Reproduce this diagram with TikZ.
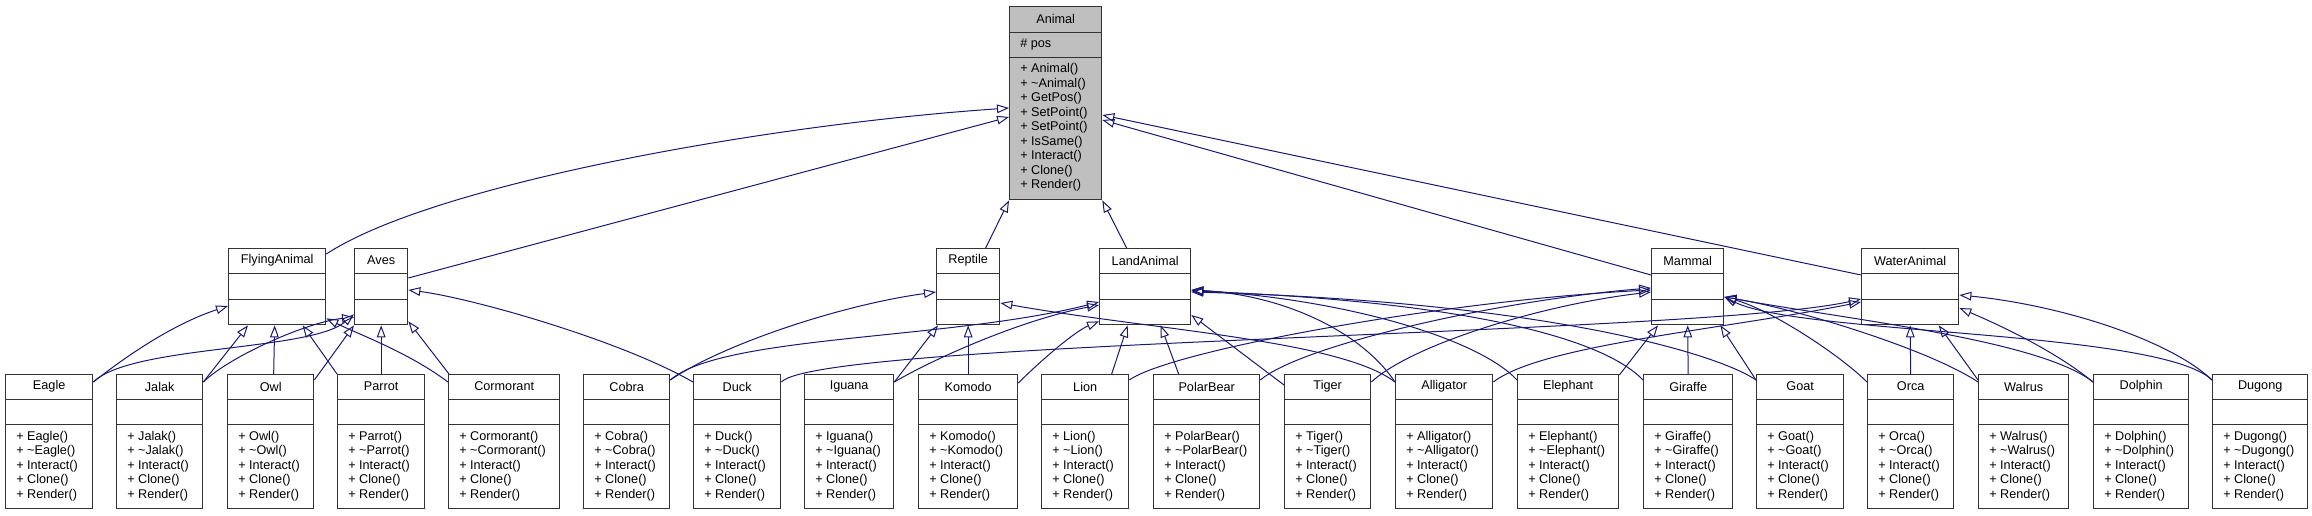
\documentclass[tikz,border=0pt]{standalone}
\usepackage{fontspec}
\setmainfont{Liberation Sans}
\usetikzlibrary{positioning,arrows.meta,calc}
\definecolor{edgeblue}{RGB}{25,25,112}
\definecolor{basegray}{RGB}{191,191,191}

\begin{document}
\begin{tikzpicture}[x=0.75pt, y=-0.75pt,
    cls/.style={draw=black!80, line width=1pt, fill=white, inner sep=0pt, anchor=north west},
    compart/.style 2 args={path picture={
      \draw[black!80, line width=1pt] ([yshift=-#1]path picture bounding box.north west) -- ([yshift=-#1]path picture bounding box.north east);
      \draw[black!80, line width=1pt] ([yshift=-#2]path picture bounding box.north west) -- ([yshift=-#2]path picture bounding box.north east);}},
    lowcls/.style={cls, minimum height=100.5pt, compart={18.75pt}{37.5pt}},
    midcls/.style={cls, minimum height=57pt, compart={18.75pt}{38.25pt}},
    clsname/.style={inner sep=0pt, font=\fontsize{9.5}{10.9}\selectfont},
    members/.style={inner sep=0pt, anchor=west, align=left, font=\fontsize{9.5}{10.9}\selectfont},
    inh/.style={draw=edgeblue, line width=0.75pt, -{Triangle[open, length=9pt, width=6.5pt]}}
  ]
  \useasboundingbox (0,0) rectangle (2312,515);

  \node[cls, fill=basegray, minimum width=69pt, minimum height=144.75pt, compart={19.5pt}{38.25pt}] (Animal) at (1009,6) {};
  \node[clsname] (Animal-t) at ($(Animal.north)+(0,13)$) {Animal};
  \node[members] (Animal-a) at ($(Animal.north west)+(11,38.5)$) {\# pos};
  \node[members] (Animal-m) at ($(Animal.north west)+(11,121.5)$) {+ Animal()\\+ \textasciitilde Animal()\\+ GetPos()\\+ SetPoint()\\+ SetPoint()\\+ IsSame()\\+ Interact()\\+ Clone()\\+ Render()};

  \foreach \cname/\xa/\xb in {FlyingAnimal/228/325, Aves/354/407, Reptile/936/999,
      LandAnimal/1099/1190, Mammal/1651/1723, WaterAnimal/1861/1958} {
    \node[midcls, minimum width={(\xb-\xa)*0.75pt}] (\cname) at (\xa,248) {};
    \node[clsname] (\cname-t) at ($(\cname.north)+(0,12.5)$) {\cname};
  }

  \foreach \cname/\xa/\xb in {Eagle/5/92, Jalak/116/202, Owl/227/313, Parrot/337/424,
      Cormorant/448/559, Cobra/583/669, Duck/693/780, Iguana/804/893, Komodo/918/1017,
      Lion/1041/1128, PolarBear/1153/1259, Tiger/1284/1370, Alligator/1395/1492,
      Elephant/1517/1618, Giraffe/1643/1732, Goat/1756/1843, Orca/1867/1953,
      Walrus/1978/2068, Dolphin/2093/2188, Dugong/2212/2307} {
    \node[lowcls, minimum width={(\xb-\xa)*0.75pt}] (\cname) at (\xa,374) {};
    \node[clsname] (\cname-t) at ($(\cname.north)+(0,12.5)$) {\cname};
    \node[members] (\cname-m) at ($(\cname.north west)+(11,92)$) {+ \cname()\\+ \textasciitilde\cname()\\+ Interact()\\+ Clone()\\+ Render()};
  }

  \draw[inh] ($(FlyingAnimal.north east)+(0,6)$) .. controls +(105,-69) and +(-249,17) .. ($(Animal.north west)+(0,102)$);
  \draw[inh] ($(Aves.north east)+(0,30)$) -- ($(Animal.north west)+(0,111)$);
  \draw[inh] ($(Reptile.north)+(17.5,0)$) -- (Animal.south west);
  \draw[inh] ($(LandAnimal.north)+(-18.5,0)$) -- (Animal.south east);
  \draw[inh] ($(Mammal.north west)+(0,27)$) -- ($(Animal.north east)+(0,114)$);
  \draw[inh] ($(WaterAnimal.north west)+(0,27)$) -- ($(Animal.north east)+(0,109)$);

  \draw[inh] ($(Eagle.north east)+(0,8)$) .. controls +(28,-22) and +(-58,19) .. ($(FlyingAnimal.north west)+(0,58)$);
  \draw[inh] ($(Jalak.north east)+(0,8)$) -- ($(FlyingAnimal.south west)+(20,0)$);
  \draw[inh] ($(Owl.north)+(3,0)$) -- ($(FlyingAnimal.south)+(-2.5,0)$);
  \draw[inh] (Parrot.north west) -- ($(FlyingAnimal.south)+(25.5,0)$);
  \draw[inh] ($(Cormorant.north west)+(0,8)$) .. controls +(-40,-30) and +(30,15) .. ($(FlyingAnimal.south east)+(0,-7)$);

  \draw[inh] ($(Eagle.north east)+(0,8)$) .. controls +(38,-37) and +(-44,37) .. ($(Aves.south west)+(0,-11)$);
  \draw[inh] ($(Jalak.north east)+(0,8)$) .. controls +(28,-27) and +(-44,4) .. ($(Aves.south west)+(0,-8)$);
  \draw[inh] ($(Owl.north east)+(0,6)$) -- (Aves.south west);
  \draw[inh] (Parrot.north) -- (Aves.south);
  \draw[inh] ($(Cormorant.north west)+(1,0)$) -- ($(Aves.south east)+(0,-4)$);
  \draw[inh] ($(Duck.north west)+(0,8)$) .. controls +(-73,-42) and +(63,8) .. ($(Aves.north east)+(0,42)$);

  \draw[inh] ($(Cobra.north east)+(0,6)$) .. controls +(51,-35) and +(-96,13) .. ($(Reptile.north west)+(0,44)$);
  \draw[inh] ($(Iguana.north east)+(0,8)$) -- ($(Reptile.south west)+(2,0)$);
  \draw[inh] (Komodo.north) -- (Reptile.south);
  \draw[inh] ($(Alligator.north west)+(0,8)$) .. controls +(-55,-42) and +(151,27) .. ($(Reptile.north east)+(0,55)$);

  \draw[inh] ($(Cobra.north east)+(0,6)$) .. controls +(51,-45) and +(-149,38) .. ($(LandAnimal.north west)+(0,54)$);
  \draw[inh] ($(Iguana.north east)+(0,8)$) .. controls +(37,-22) and +(-79,15) .. ($(LandAnimal.north west)+(0,57)$);
  \draw[inh] ($(Komodo.north east)+(0,9)$) .. controls +(23,-23) and +(-24,10) .. ($(LandAnimal.south west)+(0,-4)$);
  \draw[inh] ($(Lion.north)+(26.5,0)$) -- ($(LandAnimal.south)+(-17.5,0)$);
  \draw[inh] ($(PolarBear.north)+(-28,0)$) -- ($(LandAnimal.south)+(15.5,0)$);
  \draw[inh] ($(Tiger.north west)+(0,11)$) -- ($(LandAnimal.north east)+(0,67)$);
  \draw[inh] ($(Alligator.north west)+(0,8)$) .. controls +(-35,-52) and +(90,5) .. ($(LandAnimal.north east)+(0,42)$);
  \draw[inh] ($(Elephant.north west)+(0,6)$) .. controls +(-37,-40) and +(160,10) .. ($(LandAnimal.north east)+(0,42)$);
  \draw[inh] ($(Giraffe.north west)+(0,6)$) .. controls +(-43,-45) and +(260,10) .. ($(LandAnimal.north east)+(0,43)$);
  \draw[inh] ($(Goat.north west)+(0,6)$) .. controls +(-36,-25) and +(360,10) .. ($(LandAnimal.north east)+(0,44)$);

  \draw[inh] ($(Lion.north east)+(0,6)$) .. controls +(42,-30) and +(-201,10) .. ($(Mammal.north west)+(0,42)$);
  \draw[inh] ($(PolarBear.north east)+(0,6)$) .. controls +(41,-35) and +(-151,12) .. ($(Mammal.north west)+(0,40)$);
  \draw[inh] ($(Tiger.north east)+(0,8)$) .. controls +(40,-37) and +(-111,13) .. ($(Mammal.north west)+(0,44)$);
  \draw[inh] ($(Elephant.north east)+(0,1)$) -- ($(Mammal.south west)+(7,0)$);
  \draw[inh] (Giraffe.north) -- (Mammal.south);
  \draw[inh] ($(Goat.north west)+(0,6)$) -- ($(Mammal.south east)+(-4,0)$);
  \draw[inh] ($(Orca.north west)+(0,8)$) .. controls +(-27,-27) and +(47,13) .. ($(Mammal.north east)+(0,49)$);
  \draw[inh] ($(Walrus.north west)+(0,8)$) .. controls +(-48,-32) and +(77,13) .. ($(Mammal.north east)+(0,49)$);
  \draw[inh] ($(Dolphin.north west)+(0,8)$) .. controls +(-53,-42) and +(127,23) .. ($(Mammal.north east)+(0,49)$);
  \draw[inh] ($(Dugong.north west)+(0,6)$) .. controls +(-52,-50) and +(77,38) .. ($(Mammal.north east)+(0,49)$);

  \draw[inh] ($(Duck.north east)+(0,8)$) .. controls +(40,-42) and +(-161,36) .. ($(WaterAnimal.north west)+(0,51)$);
  \draw[inh] ($(Alligator.north east)+(0,8)$) .. controls +(48,-37) and +(-141,28) .. ($(WaterAnimal.north west)+(0,54)$);
  \draw[inh] (Orca.north) -- (WaterAnimal.south);
  \draw[inh] ($(Walrus.north west)+(0,6)$) -- ($(WaterAnimal.south)+(28.5,0)$);
  \draw[inh] ($(Dolphin.north west)+(0,8)$) .. controls +(-33,-27) and +(52,22) .. ($(WaterAnimal.north east)+(0,60)$);
  \draw[inh] ($(Dugong.north west)+(0,6)$) .. controls +(-42,-40) and +(102,10) .. ($(WaterAnimal.north east)+(0,47)$);
\end{tikzpicture}
\end{document}
